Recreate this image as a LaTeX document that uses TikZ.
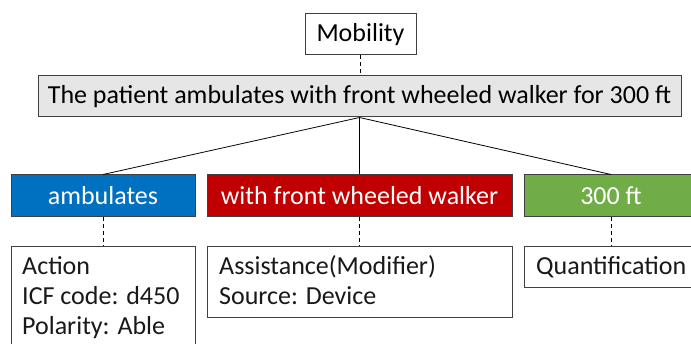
\documentclass[tikz,border=0pt]{standalone}
\usepackage{fontspec}
\setmainfont{Carlito}
\definecolor{greyfill}{HTML}{E7E6E6}
\definecolor{bluefill}{HTML}{0070C0}
\definecolor{redfill}{HTML}{C00000}
\definecolor{greenfill}{HTML}{70AD47}
\definecolor{edge}{HTML}{404040}
\begin{document}
\begin{tikzpicture}[x=1pt,y=-1pt,
  box/.style={rectangle, draw=edge, line width=1pt, inner sep=0pt, font=\fontsize{26}{30}\selectfont},
  colbox/.style={box, text=white, minimum height=42pt},
  lowbox/.style={box, fill=white, anchor=north west},
  txt/.style={inner sep=0pt, anchor=base west, font=\fontsize{26}{30}\selectfont, text=black!90},
  link/.style={draw=black, line width=0.8pt},
  dlink/.style={draw=black, line width=0.8pt, dash pattern=on 4pt off 3pt}]
\useasboundingbox (0,0) rectangle (691,344);
\clip (0,0) rectangle (691,344);
\fill[white] (0,0) rectangle (691,344);

\node[box, fill=white, minimum width=111pt, minimum height=41pt] (mob) at (360.5,34.5) {Mobility};
\node[box, fill=greyfill, minimum width=643pt, minimum height=41pt] (sent) at (359.5,96.5) {The patient ambulates with front wheeled walker for 300 ft};

\node[colbox, fill=bluefill, minimum width=184pt] (amb) at (103,196) {ambulates};
\node[colbox, fill=redfill, minimum width=305pt] (walk) at (359.5,196) {with front wheeled walker};
\node[colbox, fill=greenfill, minimum width=174pt] (ft) at (611,196) {300 ft};

\node[lowbox, minimum width=184pt, minimum height=120pt] (b1) at (11,246) {};
\node[lowbox, minimum width=305pt, minimum height=71pt] (b2) at (207,246) {};
\node[lowbox, minimum width=174pt, minimum height=41pt] (b3) at (524,246) {};

\node[txt] (b1a) at (22,275) {Action};
\node[txt] (b1b) at (22,305) {ICF code: d450};
\node[txt] (b1c) at (22,335) {Polarity: Able};
\node[txt] (b2a) at (219,275) {Assistance(Modifier)};
\node[txt] (b2b) at (219,305) {Source: Device};
\node[txt] (b3a) at (536,275) {Quantification};

\draw[dlink] (mob.south) -- (sent.north -| mob.south);
\draw[link] (sent.south -| walk.north) -- (amb.north);
\draw[link] (sent.south -| walk.north) -- (walk.north);
\draw[link] (sent.south -| walk.north) -- (ft.north);
\draw[dlink] (amb.south) -- (b1.north -| amb.south);
\draw[dlink] (walk.south) -- (b2.north -| walk.south);
\draw[dlink] (ft.south) -- (b3.north -| ft.south);
\end{tikzpicture}
\end{document}
